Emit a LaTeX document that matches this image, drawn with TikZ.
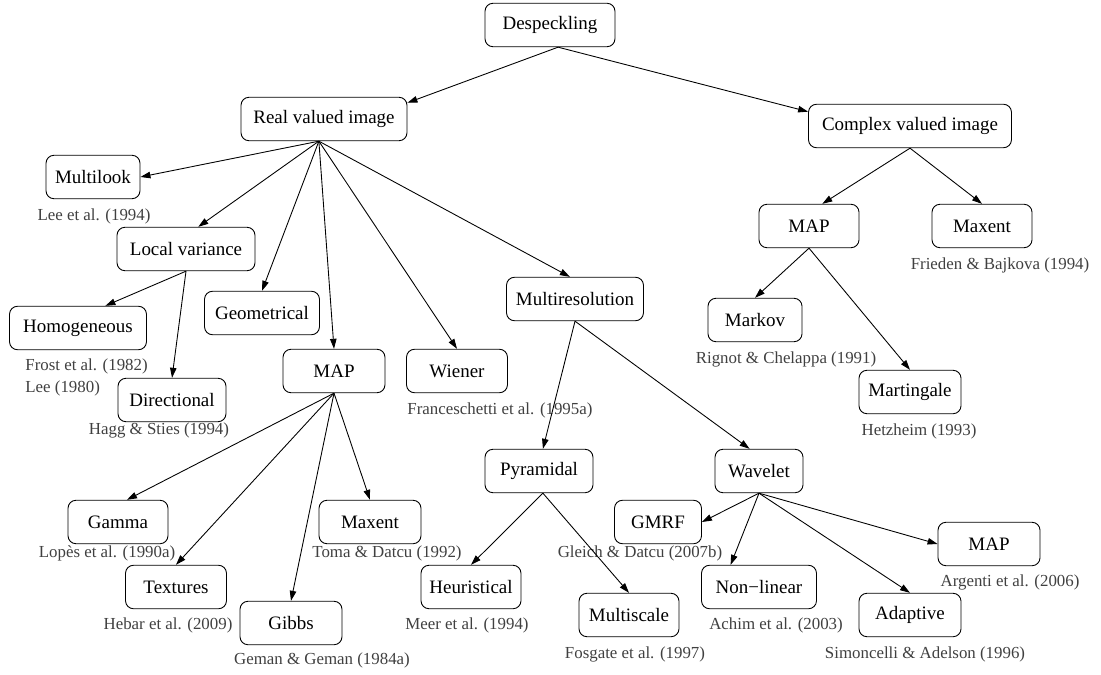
\documentclass[tikz,border=0pt]{standalone}
\usepackage{fontspec}
\setmainfont{Liberation Serif}
\usetikzlibrary{arrows.meta}

\begin{document}
\begin{tikzpicture}[x=0.02cm, y=-0.02cm, line width=0.5pt,
  box/.style={draw, rounded corners=0.16cm, minimum height=0.87cm, inner sep=0pt,
    font=\fontsize{10.8}{13}\selectfont},
  cite/.style={text=black!75, inner sep=0pt, font=\fontsize{9.6}{11}\selectfont},
  edge/.style={-{Triangle[length=0.2cm, width=0.13cm]}}]
  \useasboundingbox (0,0) rectangle (1101,675);

  % boxes, placed in pixel units
  \node[box, minimum width=2.6cm]  (desp)    at (550,25)  {Despeckling};
  \node[box, minimum width=3.32cm] (real)    at (324,119) {Real valued image};
  \node[box, minimum width=4.06cm] (cplx)    at (910,126) {Complex valued image};

  \node[box, minimum width=1.88cm] (mlook)   at (93,177)  {Multilook};
  \node[box, minimum width=2.76cm] (locvar)  at (186,249) {Local variance};
  \node[box, minimum width=2.74cm] (homog)   at (78,328)  {Homogeneous};
  \node[box, minimum width=2.16cm] (direct)  at (172,400) {Directional};
  \node[box, minimum width=2.3cm]  (geom)    at (262,313) {Geometrical};
  \node[box, minimum width=2.04cm] (mapr)    at (334,371) {MAP};
  \node[box, minimum width=2.02cm] (wiener)  at (457,371) {Wiener};
  \node[box, minimum width=2.74cm] (multi)   at (575,299) {Multiresolution};

  \node[box, minimum width=2.0cm]  (gamma)   at (118,522) {Gamma};
  \node[box, minimum width=2.02cm] (textu)   at (176,587) {Textures};
  \node[box, minimum width=2.04cm] (gibbs)   at (291,623) {Gibbs};
  \node[box, minimum width=2.04cm] (maxr)    at (370,522) {Maxent};

  \node[box, minimum width=2.16cm] (pyr)     at (539,471) {Pyramidal};
  \node[box, minimum width=2.0cm]  (heur)    at (471,587) {Heuristical};
  \node[box, minimum width=2.0cm]  (mscale)  at (629,615) {Multiscale};
  \node[box, minimum width=1.76cm] (wave)    at (759,471) {Wavelet};
  \node[box, minimum width=1.74cm] (gmrf)    at (658,522) {GMRF};
  \node[box, minimum width=2.3cm]  (nonlin)  at (759,587) {Non−linear};
  \node[box, minimum width=2.04cm] (adapt)   at (910,615) {Adaptive};
  \node[box, minimum width=2.04cm] (mapw)    at (989,544) {MAP};

  \node[box, minimum width=2.0cm]  (mapc)    at (809,226) {MAP};
  \node[box, minimum width=2.0cm]  (maxc)    at (982,226) {Maxent};
  \node[box, minimum width=1.88cm] (markov)  at (755,320) {Markov};
  \node[box, minimum width=2.04cm] (marting) at (910,392) {Martingale};

  % references
  \node[cite] (lee94)   at (94,216)  {Lee et al. (1994)};
  \node[cite, anchor=west] (frost82) at (25,366) {Frost et al. (1982)};
  \node[cite, anchor=west] (lee80)   at (25,388) {Lee (1980)};
  \node[cite] (hagg94)  at (159,430) {Hagg \& Sties (1994)};
  \node[cite, anchor=west] (fran95)  at (407,410) {Franceschetti et al. (1995a)};
  \node[cite] (lopes90) at (107,553) {Lopès et al. (1990a)};
  \node[cite] (toma92)  at (387,553) {Toma \& Datcu (1992)};
  \node[cite] (hebar09) at (168,625) {Hebar et al. (2009)};
  \node[cite] (geman84) at (322,660) {Geman \& Geman (1984a)};
  \node[cite] (meer94)  at (467,625) {Meer et al. (1994)};
  \node[cite] (fosg97)  at (635,654) {Fosgate et al. (1997)};
  \node[cite] (gleich07) at (640,553) {Gleich \& Datcu (2007b)};
  \node[cite] (achim03) at (776,625) {Achim et al. (2003)};
  \node[cite] (argen06) at (1010,582) {Argenti et al. (2006)};
  \node[cite] (simon96) at (925,654) {Simoncelli \& Adelson (1996)};
  \node[cite] (rign91)  at (786,359) {Rignot \& Chelappa (1991)};
  \node[cite] (hetz93)  at (919,431) {Hetzheim (1993)};
  \node[cite] (fried94) at (1000,265) {Frieden \& Bajkova (1994)};

  % edges
  \draw[edge] (desp.-70) -- (real.11);
  \draw[edge] (desp.-70) -- (cplx.172);

  \draw[edge] (real.-103) -- (mlook.east);
  \draw[edge] (real.-103) -- (locvar.61);
  \draw[edge] (real.-103) -- (geom.north);
  \draw[edge] (real.-103) -- (mapr.north);
  \draw[edge] (real.-103) -- (wiener.north);
  \draw[edge] (real.-103) -- (multi.103);

  \draw[edge] (locvar.south) -- (homog.39);
  \draw[edge] (locvar.south) -- (direct.north);

  \draw[edge] (mapr.south) -- (gamma.68);
  \draw[edge] (mapr.south) -- (textu.north);
  \draw[edge] (mapr.south) -- (gibbs.north);
  \draw[edge] (mapr.south) -- (maxr.north);

  \draw[edge] (multi.south) -- (pyr.80);
  \draw[edge] (multi.south) -- (wave.113);
  \draw[edge] (pyr.-80) -- (heur.north);
  \draw[edge] (pyr.-80) -- (mscale.north);
  \draw[edge] (wave.south) -- (gmrf.east);
  \draw[edge] (wave.south) -- (nonlin.142);
  \draw[edge] (wave.south) -- (adapt.north);
  \draw[edge] (wave.south) -- (mapw.west);

  \draw[edge] (cplx.south) -- (mapc.59);
  \draw[edge] (cplx.south) -- (maxc.north);
  \draw[edge] (mapc.south) -- (markov.north);
  \draw[edge] (mapc.south) -- (marting.north);
\end{tikzpicture}
\end{document}
